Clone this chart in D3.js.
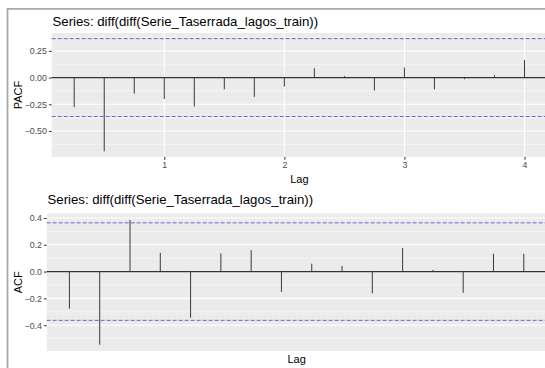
<!DOCTYPE html>
<html>
<head>
<meta charset="utf-8">
<script src="https://cdn.jsdelivr.net/npm/d3@7"></script>
<style>
  body { margin: 0; background: #fff; }
  svg { display: block; font-family: "Liberation Sans", Arial, sans-serif; }
</style>
</head>
<body>
<div class="chart"></div>
<script>
// lags in years (quarterly series, frequency 4)
const lags = d3.range(1, 17).map(k => k / 4);
const pacfValues = [-0.277, -0.69, -0.15, -0.20, -0.27, -0.11, -0.18, -0.084,
                    0.088, 0.015, -0.12, 0.094, -0.11, -0.015, 0.022, 0.165];
const acfValues = [-0.277, -0.546, 0.387, 0.14, -0.344, 0.136, 0.16, -0.151,
                   0.059, 0.042, -0.163, 0.175, 0.012, -0.158, 0.133, 0.133];
const ciLimit = 0.364;
const titleText = 'Series: diff(diff(Serie_Taserrada_lagos_train))';
const pacfTicks = [0.25, 0, -0.25, -0.5];
const pacfMinor = [0.375, 0.125, -0.125, -0.375, -0.625];
const acfTicks = [0.4, 0.2, 0, -0.2, -0.4];
const acfMinor = [0.3, 0.1, -0.1, -0.3, -0.5];
const lagTicks = [1, 2, 3, 4];

const width = 545, height = 368;

const svg = d3.select('.chart')
  .append('svg')
    .attr('width', width)
    .attr('height', height);

// screenshot frame
svg.append('line').attr('x1', 7.5).attr('x2', 7.5).attr('y1', 8).attr('y2', height)
  .attr('stroke', '#a8a8a8').attr('stroke-width', 1.8);
svg.append('line').attr('x1', 7).attr('x2', width).attr('y1', 8.8).attr('y2', 8.8)
  .attr('stroke', '#a8a8a8').attr('stroke-width', 1.8);

function expanded(vals) {
  let lo = d3.min(vals.concat([-ciLimit])), hi = d3.max(vals.concat([ciLimit]));
  let pad = (hi - lo) * 0.05;
  return [lo - pad, hi + pad];
}

function drawPanel(opts) {
  let g = svg.append('g');
  let xDom = [lags[0] - (lags[lags.length - 1] - lags[0]) * 0.05,
              lags[lags.length - 1] + (lags[lags.length - 1] - lags[0]) * 0.05];
  let x = d3.scaleLinear().domain(xDom).range([opts.left, opts.right]);
  let y = d3.scaleLinear().domain(expanded(opts.values)).range([opts.bottom, opts.top]);

  g.append('rect')
    .attr('x', opts.left).attr('y', opts.top)
    .attr('width', opts.right - opts.left).attr('height', opts.bottom - opts.top)
    .attr('fill', '#ebebeb');

  g.selectAll('.minor').data(opts.minor).enter().append('line')
    .attr('x1', opts.left).attr('x2', opts.right)
    .attr('y1', d => y(d)).attr('y2', d => y(d))
    .attr('stroke', '#fafafa').attr('stroke-width', 0.6);
  g.selectAll('.major').data(opts.ticks).enter().append('line')
    .attr('x1', opts.left).attr('x2', opts.right)
    .attr('y1', d => y(d)).attr('y2', d => y(d))
    .attr('stroke', '#fff').attr('stroke-width', 1.1);
  if (opts.xTicks) {
    g.selectAll('.vmajor').data(opts.xTicks).enter().append('line')
      .attr('x1', d => x(d)).attr('x2', d => x(d))
      .attr('y1', opts.top).attr('y2', opts.bottom)
      .attr('stroke', '#fff').attr('stroke-width', 1.1);
  }

  // zero line
  g.append('line')
    .attr('x1', opts.left).attr('x2', opts.right)
    .attr('y1', y(0)).attr('y2', y(0))
    .attr('stroke', '#333').attr('stroke-width', 1.2);

  // spikes
  g.selectAll('.spike').data(opts.values).enter().append('line')
    .attr('x1', (d, i) => x(lags[i])).attr('x2', (d, i) => x(lags[i]))
    .attr('y1', y(0)).attr('y2', d => y(d))
    .attr('stroke', '#3a3a3a').attr('stroke-width', 1);

  // confidence limits
  g.selectAll('.ci').data([ciLimit, -ciLimit]).enter().append('line')
    .attr('x1', opts.left).attr('x2', opts.right)
    .attr('y1', d => y(d)).attr('y2', d => y(d))
    .attr('stroke', '#3333cc').attr('stroke-width', 0.9)
    .attr('stroke-dasharray', '4,2').attr('opacity', 0.8);

  // y axis
  let yAxis = d3.axisLeft(y).tickValues(opts.ticks).tickSize(2.8).tickPadding(2)
    .tickFormat(opts.fmt);
  let ya = g.append('g').attr('transform', `translate(${opts.left},0)`).call(yAxis);
  ya.select('.domain').remove();
  ya.selectAll('line').attr('stroke', '#333');
  ya.selectAll('text').attr('fill', '#4d4d4d').style('font-size', '8.8px');

  if (opts.xTicks) {
    let xAxis = d3.axisBottom(x).tickValues(opts.xTicks).tickSize(2.8).tickPadding(2)
      .tickFormat(d3.format('d'));
    let xa = g.append('g').attr('transform', `translate(0,${opts.bottom})`).call(xAxis);
    xa.select('.domain').remove();
    xa.selectAll('line').attr('stroke', '#333');
    xa.selectAll('text').attr('fill', '#4d4d4d').style('font-size', '8.8px');
  }

  // titles
  g.append('text')
    .attr('x', opts.titleX).attr('y', opts.titleY)
    .style('font-size', '13.2px').attr('fill', '#000')
    .text(titleText);
  g.append('text')
    .attr('x', (opts.left + opts.right) / 2).attr('y', opts.lagY)
    .attr('text-anchor', 'middle')
    .style('font-size', '11px').attr('fill', '#000')
    .text('Lag');
  g.append('text')
    .attr('transform', `translate(22,${(opts.top + opts.bottom) / 2}) rotate(-90)`)
    .attr('text-anchor', 'middle')
    .style('font-size', '11px').attr('fill', '#000')
    .text(opts.yLabel);
}

drawPanel({
  values: pacfValues, ticks: pacfTicks, minor: pacfMinor, xTicks: lagTicks,
  fmt: d3.format('.2f'),
  left: 51.7, right: 547, top: 33, bottom: 157,
  titleX: 52.5, titleY: 25.5, lagY: 183, yLabel: 'PACF'
});

drawPanel({
  values: acfValues, ticks: acfTicks, minor: acfMinor, xTicks: null,
  fmt: d3.format('.1f'),
  left: 46.7, right: 546.5, top: 213.5, bottom: 351,
  titleX: 47.5, titleY: 203.5, lagY: 363, yLabel: 'ACF'
});
</script>
</body>
</html>
